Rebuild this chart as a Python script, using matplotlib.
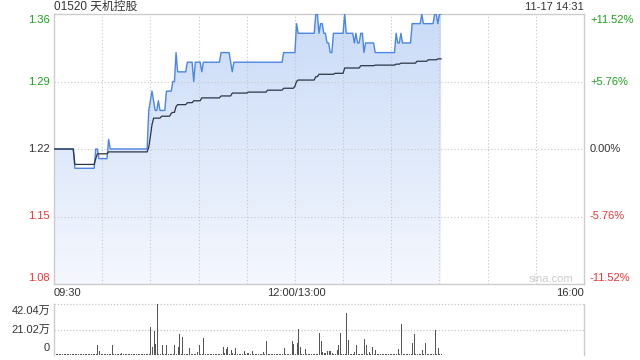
import numpy as np
import matplotlib
matplotlib.use('Agg')
import matplotlib.pyplot as plt
from matplotlib.patches import Polygon

plt.rcParams['font.family'] = ['Liberation Sans', 'Noto Sans CJK SC']

# --- data --------------------------------------------------------------
title = '01520 天机控股'
stamp = '11-17 14:31'
pre_close = 1.22
session_minutes = 330            # 09:30-12:00 + 13:00-16:00

# last price, as (level, number of minutes) runs from 09:30
price_levels = [1.22, 1.20, 1.22, 1.21, 1.23, 1.22, 1.26, 1.27, 1.28, 1.27,
                1.26, 1.27, 1.26, 1.28, 1.29, 1.32, 1.30, 1.31, 1.29, 1.31,
                1.30, 1.31, 1.32, 1.31, 1.30, 1.31, 1.32, 1.35, 1.34, 1.36,
                1.34, 1.35, 1.34, 1.33, 1.32, 1.34, 1.36, 1.34, 1.33, 1.34,
                1.33, 1.34, 1.32, 1.33, 1.32, 1.34, 1.33, 1.34, 1.33, 1.35,
                1.36, 1.35, 1.36, 1.35, 1.36]
price_runs = [13, 13, 2, 6, 1, 24, 1, 1, 1, 1,
              2, 1, 4, 4, 2, 1, 6, 4, 1, 4,
              1, 11, 6, 1, 1, 31, 8, 1, 11, 2,
              1, 2, 2, 2, 2, 7, 1, 5, 1, 1,
              2, 2, 1, 6, 13, 1, 2, 1, 6, 6,
              1, 7, 2, 1, 2]

# average price line
avg_levels = [1.220, 1.204, 1.210, 1.215, 1.217, 1.222, 1.233, 1.245, 1.252,
              1.254, 1.257, 1.258, 1.264, 1.266, 1.268, 1.270, 1.273, 1.275,
              1.278, 1.279, 1.281, 1.283, 1.285, 1.290, 1.2915, 1.295, 1.2975,
              1.2985, 1.304, 1.3064, 1.307, 1.308, 1.309, 1.311, 1.3125, 1.3135]
avg_runs = [13, 13, 1, 7, 25, 1, 1, 1, 5,
            6, 1, 2, 1, 6, 4, 5, 12, 7,
            10, 12, 10, 7, 1, 1, 11, 2, 10,
            6, 10, 9, 13, 3, 10, 7, 6, 3]

# volume (万 shares) for the minutes with visible bars, the rest are tiny
vol_minutes = [27, 28, 36, 42, 60, 61, 62, 63, 64, 67, 70, 75, 77, 78, 80,
               84, 89, 90, 93, 105, 106, 107, 108, 110, 111, 113, 118, 120,
               121, 123, 130, 132, 143, 148, 149, 151, 152, 153, 156, 165,
               166, 167, 168, 169, 170, 171, 172, 173, 176, 177, 178, 182,
               183, 187, 188, 193, 194, 196, 198, 200, 214, 216, 223, 224,
               229, 231, 237, 239]
vol_values = [8.5, 3.7, 8.0, 2.0, 23.3, 7.0, 19.9, 9.4, 42.04, 8.0, 8.5, 8.0,
              7.0, 17.0, 14.8, 5.7, 2.8, 8.5, 13.9, 6.2, 2.0, 4.8, 6.8, 4.3,
              1.4, 5.4, 3.7, 1.4, 2.0, 3.7, 2.8, 11.4, 5.4, 11.4, 9.1, 10.0,
              21.3, 6.2, 4.8, 18.2, 11.4, 2.8, 2.0, 2.0, 3.4, 3.4, 3.4, 2.0,
              4.0, 8.5, 18.2, 34.4, 12.2, 2.8, 8.5, 13.0, 8.0, 2.3, 7.0, 4.0,
              4.8, 25.8, 9.7, 17.3, 4.5, 9.7, 20.2, 5.4]
vol_tiny = 0.6
vol_max = 42.04

price = np.repeat(price_levels, price_runs)
avg = np.repeat(avg_levels, avg_runs)
minutes = np.arange(len(price))
volume = np.full(len(price), vol_tiny)
volume[vol_minutes] = vol_values

ylo, yhi = 1.08, 1.36
green, red, dark = '#1c9f1c', '#ee3434', '#333333'
grid_c = '#c6c6c6'
W, H = 640, 360


def fx(px):
    return px / W


def fy(py):
    return 1 - py / H


fig = plt.figure(figsize=(6.4, 3.6), dpi=100)
ax = fig.add_axes([fx(54), fy(284), fx(530), 270 / H])
vax = fig.add_axes([fx(54), fy(355), fx(530), 51 / H])

# --- price panel --------------------------------------------------------
ax.set_xlim(0, session_minutes)
ax.set_ylim(ylo, yhi)
ax.set_xticks([])
ax.set_yticks([])
for s in ax.spines.values():
    s.set_color('#cccccc')
    s.set_linewidth(1)

# gradient fill under the price line
grad = np.linspace(0, 1, 256)[:, None]
top_c = np.array([0.79, 0.86, 0.97])
bot_c = np.array([0.96, 0.97, 0.995])
img = top_c * (1 - grad[..., None]) + bot_c * grad[..., None]
im = ax.imshow(img, extent=[0, session_minutes, ylo, yhi], aspect='auto',
               origin='upper', zorder=1)
poly = Polygon(np.column_stack([np.r_[0, minutes, minutes[-1]],
                                np.r_[ylo, price, ylo]]),
               closed=True, facecolor='none', edgecolor='none')
ax.add_patch(poly)
im.set_clip_path(poly)

for m in range(30, session_minutes, 30):
    ax.axvline(m, color=grid_c, lw=0.8, ls=(0, (1, 2)), zorder=2)
for lv in [1.15, 1.22, 1.29]:
    ax.axhline(lv, color=grid_c, lw=0.8, ls=(0, (1, 2)), zorder=2)

ax.plot(minutes, price, color='#4a86e8', lw=1.0, zorder=3)
ax.plot(minutes, avg, color='#2a3646', lw=0.9, zorder=4)

fig.text(fx(573), fy(279), 'sina.com', ha='right', va='center',
         fontsize=8, color='#cccccc')

# left / right labels
left_lbls = ['1.36', '1.29', '1.22', '1.15', '1.08']
right_lbls = ['+11.52%', '+5.76%', '0.00%', '-5.76%', '-11.52%']
lbl_cols = [green, green, dark, red, red]
lbl_y = [20, 82, 149, 216, 278]
for t, r, c, y in zip(left_lbls, right_lbls, lbl_cols, lbl_y):
    fig.text(fx(50), fy(y), t, ha='right', va='center', fontsize=8, color=c)
    fig.text(fx(590), fy(y), r, ha='left', va='center', fontsize=8, color=c)

fig.text(fx(54), fy(7), title, ha='left', va='center', fontsize=8.5,
         color=dark)
fig.text(fx(584), fy(7), stamp, ha='right', va='center', fontsize=8,
         color=dark)

fig.text(fx(54), fy(293), '09:30', ha='left', va='center', fontsize=8,
         color=dark)
fig.text(fx(296), fy(293), '12:00/13:00', ha='center', va='center',
         fontsize=8, color=dark)
fig.text(fx(584), fy(293), '16:00', ha='right', va='center', fontsize=8,
         color=dark)

# --- volume panel -------------------------------------------------------
vax.set_xlim(0, session_minutes)
vax.set_ylim(0, vol_max)
vax.set_xticks([])
vax.set_yticks([])
for s in vax.spines.values():
    s.set_color('#cccccc')
    s.set_linewidth(1)
vax.spines['top'].set_visible(False)
vax.spines['bottom'].set_visible(False)
for lv in [vol_max, vol_max / 2]:
    vax.axhline(lv, color=grid_c, lw=0.9, ls=(0, (1, 1.5)), zorder=1,
                clip_on=False)
vax.vlines(minutes, 0, volume, color='#555555', lw=0.72, zorder=2,
           antialiased=False)

for t, y in zip(['42.04万', '21.02万', '0'], [311, 330, 348]):
    fig.text(fx(50), fy(y), t, ha='right', va='center', fontsize=8,
             color=dark)

fig.savefig('out.png', dpi=100)
